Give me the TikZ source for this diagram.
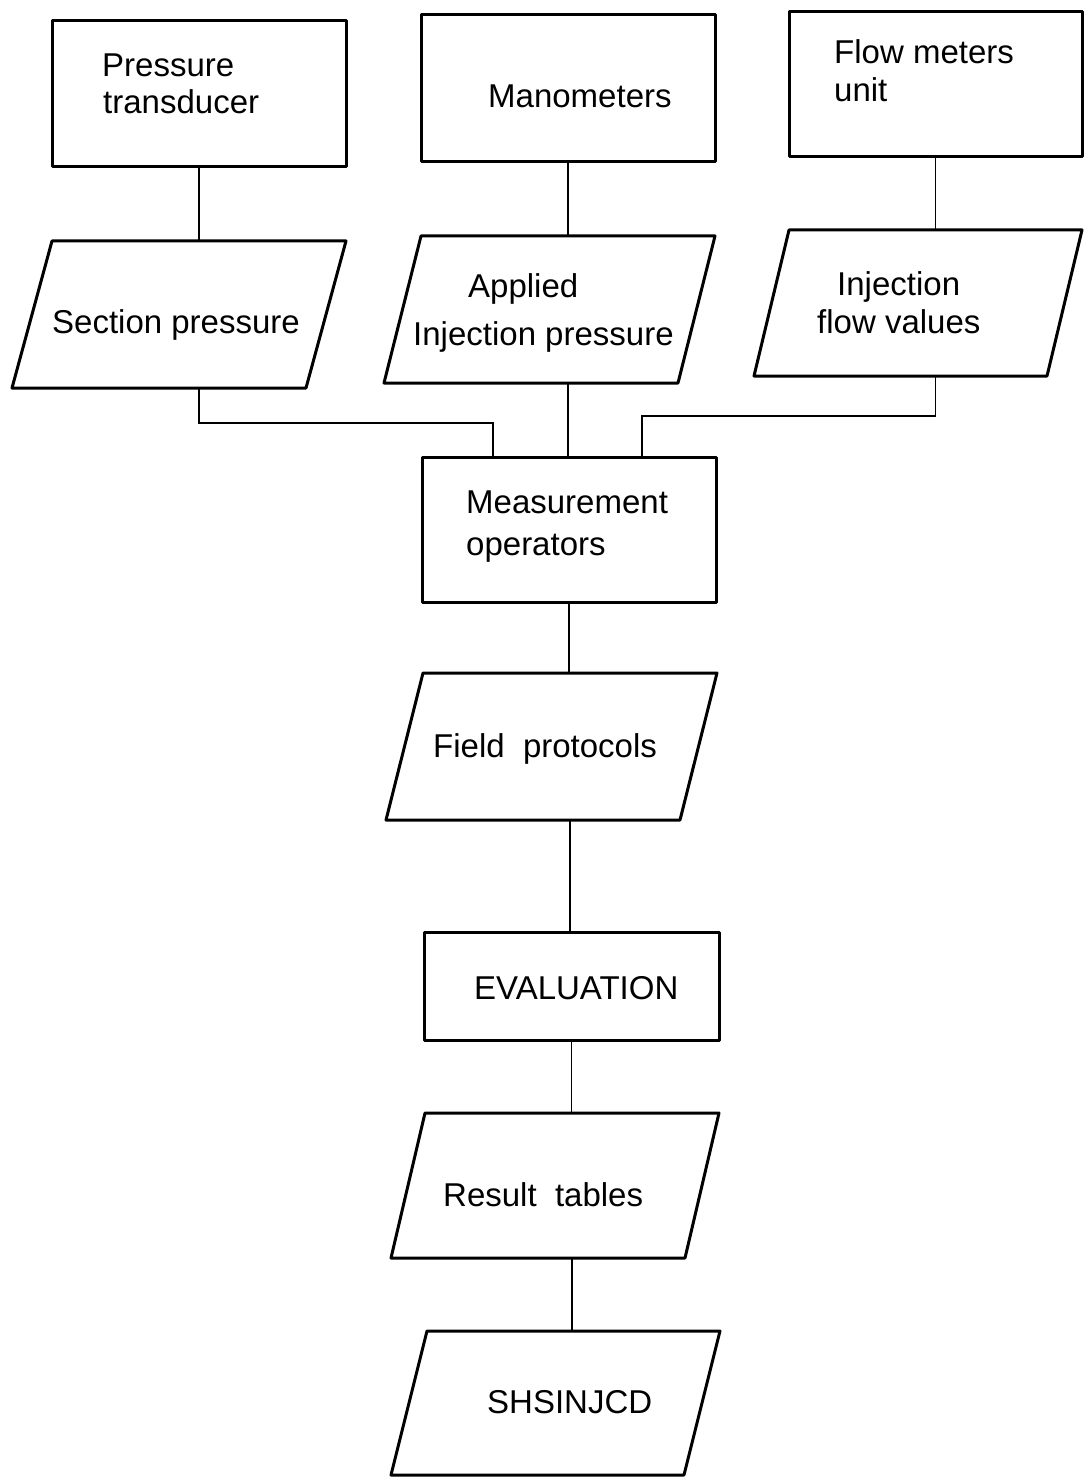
\documentclass[tikz,border=0pt]{standalone}
\usepackage{fontspec}
\setmainfont{Liberation Sans}
\usetikzlibrary{calc}

\tikzset{
  shapeline/.style={draw=black, line width=3pt, line join=round, line cap=round},
  procbox/.style={shapeline, rectangle, anchor=north west, inner sep=0pt, outer sep=0pt},
  iorect/.style={rectangle, anchor=north west, inner sep=0pt, outer sep=0pt},
  conn/.style={draw=black, line width=1.4pt},
  lbl/.style={anchor=base west, inner sep=0pt, font=\fontsize{33}{40}\selectfont},
}

% input/output symbol: a parallelogram whose top side spans the named rectangle
\newcommand\ioshape[6]{%
  \node[iorect, minimum width=#4pt, minimum height=#5pt] (#1) at (#2,#3) {};
  \draw[shapeline] (#1.north west) -- (#1.north east)
    -- ($(#1.south east)+(-#6,0)$) -- ($(#1.south west)+(-#6,0)$) -- cycle;
}

\begin{document}
\begin{tikzpicture}[x=1pt,y=-1pt]
  \fill[white] (0,0) rectangle (1085,1479);
  \useasboundingbox (0,0) rectangle (1085,1479);

  % top row: instruments
  \node[procbox, minimum width=294pt, minimum height=146pt] (PT) at (52,21) {};
  \node[procbox, minimum width=294pt, minimum height=147pt] (MAN) at (421,15) {};
  \node[procbox, minimum width=293pt, minimum height=145pt] (FM) at (789,12) {};

  % second row: recorded quantities
  \ioshape{SP}{52}{241}{294}{147}{40}
  \ioshape{AIP}{421}{236}{294}{147}{37}
  \ioshape{IFV}{789}{230}{293}{146}{35}

  % central column
  \node[procbox, minimum width=294pt, minimum height=145pt] (MO) at (422,457) {};
  \ioshape{FP}{423}{673}{294}{147}{37}
  \node[procbox, minimum width=295pt, minimum height=108pt] (EV) at (424,932) {};
  \ioshape{RT}{425}{1113}{294}{145}{34}
  \ioshape{SH}{427}{1331}{293}{144}{36}

  % labels
  \node[lbl] (tPT1) at (102,77) {Pressure};
  \node[lbl] (tPT2) at (103,114) {transducer};
  \node[lbl] (tMAN) at (488,108) {Manometers};
  \node[lbl] (tFM1) at (834,64) {Flow meters};
  \node[lbl] (tFM2) at (834,102) {unit};
  \node[lbl] (tSP) at (52,333) {Section pressure};
  \node[lbl] (tAIP1) at (468,297) {Applied};
  \node[lbl] (tAIP2) at (413,345) {Injection pressure};
  \node[lbl] (tIFV1) at (837,295) {Injection};
  \node[lbl] (tIFV2) at (817,333) {flow values};
  \node[lbl] (tMO1) at (466,513) {Measurement};
  \node[lbl] (tMO2) at (466,555) {operators};
  \node[lbl] (tFP) at (433,757) {Field\ \ protocols};
  \node[lbl] (tEV) at (474,999) {EVALUATION};
  \node[lbl] (tRT) at (443,1206) {Result\ \ tables};
  \node[lbl] (tSH) at (487,1413) {SHSINJCD};

  % connectors
  \draw[conn] (PT.south) -- (PT.south |- SP.north);
  \draw[conn] (MAN.south) -- (MAN.south |- AIP.north);
  \draw[conn] (FM.south) -- (FM.south |- IFV.north);

  \coordinate (kL) at (493,423);
  \coordinate (kR) at (642,416);
  \draw[conn] (SP.south) |- (kL) -- (kL |- MO.north);
  \draw[conn] (AIP.south) -- (AIP.south |- MO.north);
  \draw[conn] (IFV.south) |- (kR) -- (kR |- MO.north);

  \draw[conn] (MO.south) -- (MO.south |- FP.north);
  \draw[conn] (FP.south) -- (FP.south |- EV.north);
  \draw[conn] (EV.south) -- (EV.south |- RT.north);
  \draw[conn] (RT.south) -- (RT.south |- SH.north);
\end{tikzpicture}
\end{document}
